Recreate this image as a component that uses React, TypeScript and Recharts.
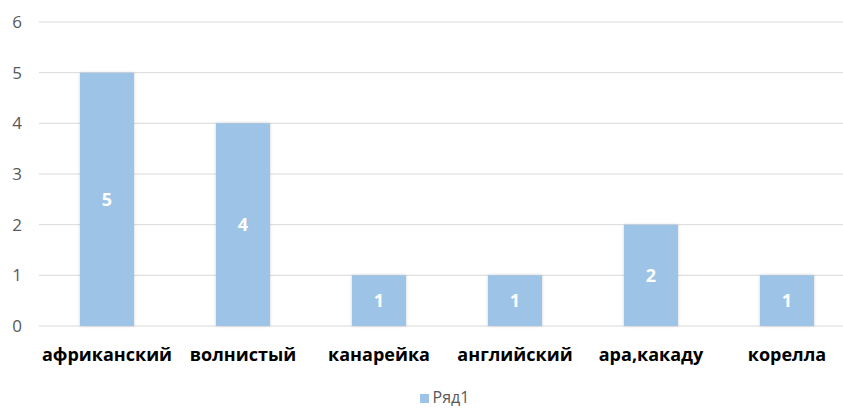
import { Bar, BarChart, CartesianGrid, LabelList, Legend, XAxis, YAxis } from "recharts";

const birds = ["африканский", "волнистый", "канарейка", "английский", "ара,какаду", "корелла"];
const counts = [5, 4, 1, 1, 2, 1];
const yTicks = [0, 1, 2, 3, 4, 5, 6];

const data = birds.map((name, i) => ({ name, "Ряд1": counts[i] }));

const font = "'Open Sans', 'Noto Sans', sans-serif";

export default function App() {
  return (
    <div
      style={{
        position: "fixed",
        left: 0,
        top: 0,
        width: 843,
        height: 408,
        overflow: "hidden",
        background: "#fff",
        fontFamily: font,
      }}
    >
      <BarChart
        width={860}
        height={408}
        data={data}
        margin={{ top: 22, right: 5, bottom: 0, left: 0 }}
      >
        <defs>
          <filter id="barShadow" x="-20%" y="-5%" width="140%" height="110%">
            <feDropShadow dx="0" dy="0" stdDeviation="1.5" floodColor="#000" floodOpacity="0.18" />
          </filter>
        </defs>
        <CartesianGrid vertical={false} stroke="#d9d9d9" />
        <XAxis
          dataKey="name"
          axisLine={false}
          tickLine={false}
          height={60}
          tickMargin={16}
          tick={{ fill: "#000", fontSize: 18, fontWeight: 700, fontFamily: font }}
          interval={0}
        />
        <YAxis
          domain={[0, 6]}
          ticks={yTicks}
          width={39}
          axisLine={false}
          tickLine={false}
          tickMargin={11}
          tick={{ fill: "#595959", fontSize: 17, fontFamily: font }}
        />
        <Legend
          verticalAlign="bottom"
          iconType="square"
          iconSize={9}
          wrapperStyle={{ fontSize: 16, color: "#595959", fontFamily: font, left: 22 }}
          formatter={(v) => <span style={{ color: "#595959" }}>{v}</span>}
        />
        <Bar
          dataKey="Ряд1"
          fill="#9dc3e6"
          barSize={54}
          isAnimationActive={false}
          style={{ filter: "url(#barShadow)" }}
        >
          <LabelList
            dataKey="Ряд1"
            position="center"
            fill="#fff"
            style={{ fontSize: 18, fontWeight: 700, fontFamily: font }}
          />
        </Bar>
      </BarChart>
    </div>
  );
}
